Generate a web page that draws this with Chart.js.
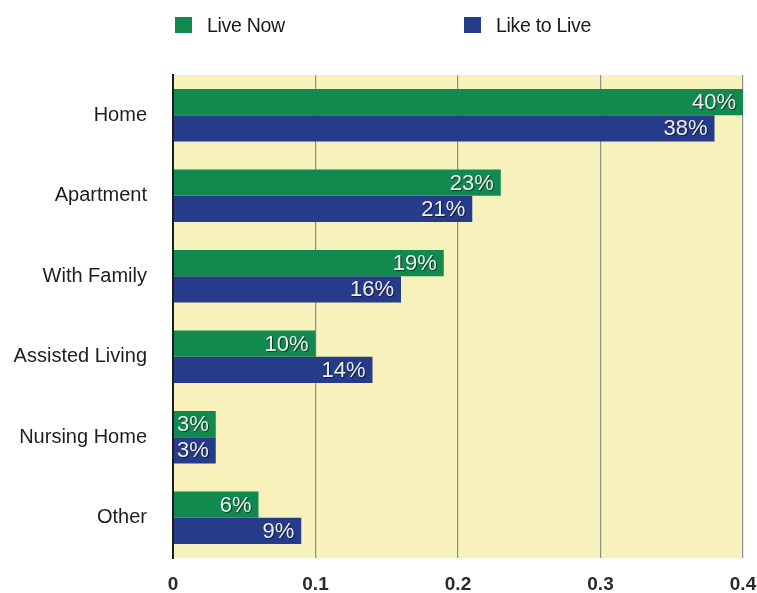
<!DOCTYPE html>
<html>
<head>
<meta charset="utf-8">
<script src="https://cdn.jsdelivr.net/npm/chart.js@4/dist/chart.umd.min.js"></script>
<style>
  html, body { margin: 0; padding: 0; background: #ffffff; }
  #wrap { position: relative; width: 757px; height: 593px; }
  canvas { position: absolute; left: 0; top: 0; }
  .lg { position: absolute; top: 14px; height: 22px; display: flex; align-items: center;
        font-family: 'Liberation Sans', Arial, sans-serif; font-size: 19.5px; color: #1a1a1a; letter-spacing: -0.3px; }
  .lg span.box { display: inline-block; width: 17px; height: 16px; margin-right: 15px; }
</style>
</head>
<body>
<div id="wrap">
  <canvas id="c" width="757" height="593"></canvas>
</div>
<script>
const categories = ['Home', 'Apartment', 'With Family', 'Assisted Living', 'Nursing Home', 'Other'];
const liveNow = [0.40, 0.23, 0.19, 0.10, 0.03, 0.06];
const likeToLive = [0.38, 0.21, 0.16, 0.14, 0.03, 0.09];
const seriesNames = ['Live Now', 'Like to Live'];
const seriesColors = ['#11894f', '#263b8a'];
const xTicks = [0, 0.1, 0.2, 0.3, 0.4];

const FONT = "'Liberation Sans', Arial, sans-serif";

// HTML legend built from series names/colours
const legendLeft = [175, 464];
seriesNames.forEach((name, i) => {
  const d = document.createElement('div');
  d.className = 'lg';
  d.style.left = legendLeft[i] + 'px';
  d.innerHTML = '<span class="box" style="background:' + seriesColors[i] + '"></span>' + name;
  document.getElementById('wrap').appendChild(d);
});

const bgPlugin = {
  id: 'plotBg',
  beforeDraw(chart) {
    const { ctx, chartArea: a } = chart;
    ctx.save();
    ctx.fillStyle = '#f7f2bc';
    ctx.fillRect(a.left, a.top, a.right - a.left, a.bottom - a.top);
    ctx.restore();
  }
};

const labelPlugin = {
  id: 'barLabels',
  afterDatasetsDraw(chart) {
    const ctx = chart.ctx;
    ctx.save();
    ctx.font = '22px ' + FONT;
    ctx.textAlign = 'right';
    ctx.textBaseline = 'middle';
    chart.data.datasets.forEach((ds, di) => {
      const meta = chart.getDatasetMeta(di);
      meta.data.forEach((el, i) => {
        const txt = Math.round(ds.data[i] * 100) + '%';
        ctx.shadowColor = 'rgba(0,0,0,0.55)';
        ctx.shadowOffsetX = 1;
        ctx.shadowOffsetY = 1;
        ctx.shadowBlur = 1;
        ctx.fillStyle = '#eeeeee';
        ctx.fillText(txt, el.x - 7, el.y + 1);
      });
    });
    ctx.restore();
  }
};

new Chart(document.getElementById('c'), {
  type: 'bar',
  data: {
    labels: categories,
    datasets: [
      { label: seriesNames[0], data: liveNow, backgroundColor: seriesColors[0], borderWidth: 0,
        barPercentage: 1.0, categoryPercentage: 0.65 },
      { label: seriesNames[1], data: likeToLive, backgroundColor: seriesColors[1], borderWidth: 0,
        barPercentage: 1.0, categoryPercentage: 0.65 }
    ]
  },
  options: {
    indexAxis: 'y',
    responsive: false,
    animation: false,
    devicePixelRatio: 1,
    layout: { padding: { top: 75, right: 14, left: 0, bottom: 0 } },
    plugins: {
      legend: { display: false },
      tooltip: { enabled: false }
    },
    scales: {
      x: {
        min: 0, max: 0.4,
        afterBuildTicks(scale) { scale.ticks = xTicks.map(v => ({ value: v })); },
        afterFit(scale) {
          scale.height = 35;
          scale.paddingLeft = 0; scale.paddingRight = 0;
          scale.paddingTop = 0; scale.paddingBottom = 0;
        },
        ticks: {
          padding: 15,
          color: '#2a2a2a',
          font: { family: FONT, size: 19, weight: 'bold' },
          callback: (v) => String(v)
        },
        grid: {
          drawTicks: false,
          color: (c) => (c.tick && c.tick.value === 0) ? '#1e1e1e' : '#8e8e8e',
          lineWidth: (c) => (c.tick && c.tick.value === 0) ? 2 : 1.2
        },
        border: { display: false }
      },
      y: {
        afterFit(scale) {
          scale.width = 173;
          scale.paddingTop = 0; scale.paddingBottom = 0;
        },
        ticks: {
          padding: 26,
          color: '#1e1e1e',
          font: { family: FONT, size: 20 }
        },
        grid: { display: false, drawTicks: false },
        border: { display: true, color: '#1e1e1e', width: 2 }
      }
    }
  },
  plugins: [bgPlugin, labelPlugin]
});
</script>
</body>
</html>
